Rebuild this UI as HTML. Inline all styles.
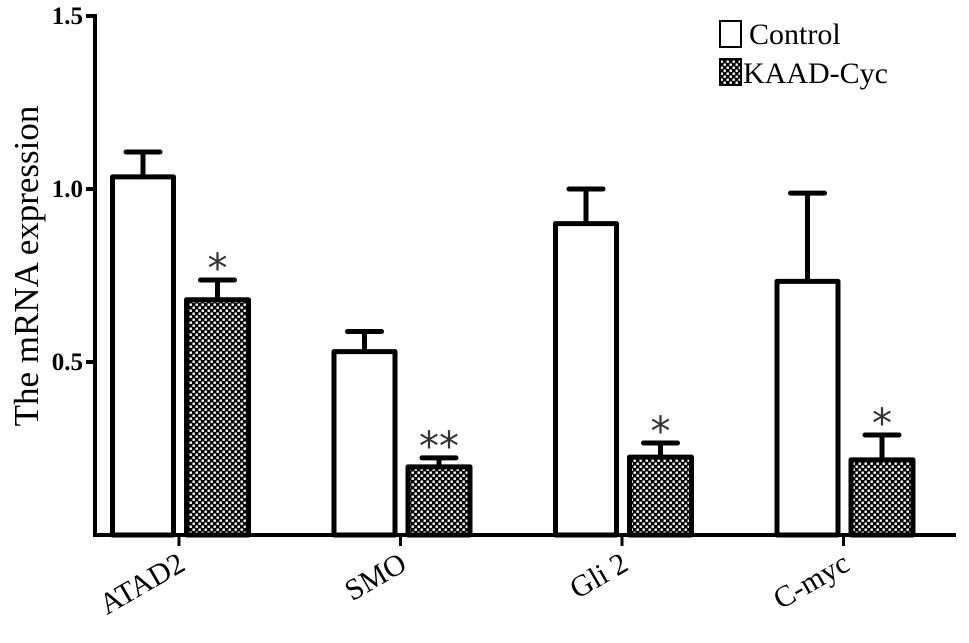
<!DOCTYPE html>
<html><head><meta charset="utf-8"><style>
html,body{margin:0;padding:0;background:#fff;}
svg{display:block;font-family:"Liberation Serif",serif;}
</style></head><body>
<svg id="chart" width="969" height="643" viewBox="0 0 969 643">
<defs>
<pattern id="chk" width="6" height="6" patternUnits="userSpaceOnUse">
<rect width="6" height="6" fill="#000"/>
<rect x="0.5" y="0.5" width="2.4" height="2.4" fill="#fff"/>
<rect x="3.5" y="3.5" width="2.4" height="2.4" fill="#fff"/>
</pattern>
</defs>
<g id="plot"></g>
<text x="0" y="0" transform="translate(38,266) rotate(-90)" text-anchor="middle" font-size="35">The mRNA expression</text>
<g>
<rect x="720" y="21" width="21" height="26" fill="#fff" stroke="#000" stroke-width="2"/>
<text x="749" y="44" font-size="30">Control</text>
<rect x="720" y="59" width="21" height="26" fill="url(#chk)" stroke="#000" stroke-width="2"/>
<text x="743" y="83" font-size="30">KAAD-Cyc</text>
</g>
</svg>
<script>
const categories = ["ATAD2", "SMO", "Gli 2", "C-myc"];
const controlValues = [1.035, 0.53, 0.90, 0.733];
const controlErrors = [0.072, 0.058, 0.10, 0.255];
const kaadValues = [0.68, 0.197, 0.225, 0.217];
const kaadErrors = [0.057, 0.026, 0.041, 0.072];
const kaadMarks = ["*", "**", "*", "*"];
const yTicks = [0.5, 1.0, 1.5];
const yTickLabels = ["0.5", "1.0", "1.5"];

const NS = "http://www.w3.org/2000/svg";
const g = document.getElementById("plot");
const y0 = 535, yScale = 346, axisX = 95;
const y = v => y0 - v * yScale;
const groupTick = i => 179 + i * 221.5;
function el(tag, attrs, parent){const e=document.createElementNS(NS,tag);for(const k in attrs)e.setAttribute(k,attrs[k]);(parent||g).appendChild(e);return e;}

let a = el("line",{x1:axisX,y1:y(1.5)-2,x2:axisX,y2:y0+2,stroke:"#000","stroke-width":4});


a = el("line",{x1:axisX-2,y1:y0,x2:956,y2:y0,stroke:"#000","stroke-width":4});



yTicks.forEach((t,i)=>{
  const tk = el("line",{x1:axisX-9,y1:y(t),x2:axisX,y2:y(t),stroke:"#000","stroke-width":4});
  
  
  const lb = el("text",{x:axisX-12,y:y(t)+8,"text-anchor":"end","font-size":25,"font-weight":"bold"});
  lb.textContent = yTickLabels[i];
  
  
});

function bar(x1,x2,v,e,fill,name){
  const r = el("rect",{x:x1+2.5,y:y(v),width:x2-x1-5,height:y0-y(v),fill:fill,stroke:"#000","stroke-width":5,"stroke-linejoin":"round"});
  
  
  const cx=(x1+x2)/2;
  const eb = el("path",{d:`M${cx} ${y(v)} V${y(v+e)} M${cx-17} ${y(v+e)} H${cx+17}`,stroke:"#000","stroke-width":5,"stroke-linecap":"round",fill:"none"});
  
  
  return cx;
}

categories.forEach((c,i)=>{
  const t = groupTick(i);
  bar(t-69,t-3,controlValues[i],controlErrors[i],"#fff","bar-control-"+i);
  const cx = bar(t+5,t+72,kaadValues[i],kaadErrors[i],"url(#chk)","bar-kaad-"+i);
  const s = el("text",{x:cx,y:y(kaadValues[i]+kaadErrors[i])+2,"text-anchor":"middle","font-size":40,"font-family":"DejaVu Sans, sans-serif",fill:"#333"});
  s.textContent = kaadMarks[i];
  
  
  const tk = el("line",{x1:t,y1:y0,x2:t,y2:y0+11,stroke:"#000","stroke-width":3});
  
  
  const lb = el("text",{x:0,y:0,"text-anchor":"end","font-size":30,transform:`translate(${t+8},${y0+34}) rotate(-30)`});
  lb.textContent = c;
  
  
});
</script>
</body></html>
